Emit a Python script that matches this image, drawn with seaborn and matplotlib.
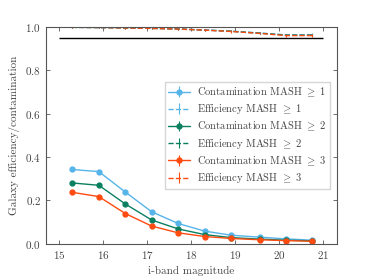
import numpy as np
import matplotlib
matplotlib.use("Agg")
import matplotlib.pyplot as plt
import seaborn as sns

mag = [15.28, 15.9, 16.5, 17.1, 17.7, 18.3, 18.9, 19.55, 20.15, 20.75]

cont1 = [0.343, 0.333, 0.239, 0.148, 0.094, 0.059, 0.040, 0.031, 0.023, 0.017]
cont2 = [0.281, 0.270, 0.184, 0.110, 0.069, 0.043, 0.029, 0.022, 0.017, 0.014]
cont3 = [0.238, 0.218, 0.140, 0.082, 0.051, 0.034, 0.025, 0.019, 0.015, 0.012]

eff1 = [0.998, 0.997, 0.996, 0.994, 0.991, 0.986, 0.980, 0.972, 0.963, 0.964]
eff2 = [0.998, 0.997, 0.995, 0.993, 0.990, 0.985, 0.980, 0.971, 0.962, 0.962]
eff3 = [0.998, 0.997, 0.995, 0.993, 0.990, 0.985, 0.979, 0.970, 0.960, 0.960]

err_c = [0.006, 0.006, 0.005, 0.004, 0.003, 0.003, 0.002, 0.002, 0.002, 0.002]
err_e = [0.004, 0.004, 0.004, 0.004, 0.004, 0.004, 0.005, 0.005, 0.006, 0.006]

threshold = 0.95
xticks = [15, 16, 17, 18, 19, 20, 21]
yticks = [0.0, 0.2, 0.4, 0.6, 0.8, 1.0]

colors = ["#56B4E9", "#0A8060", "#FF4A10"]
labels_c = [r"Contamination MASH $\geq$ 1", r"Contamination MASH $\geq$ 2", r"Contamination MASH $\geq$ 3"]
labels_e = [r"Efficiency MASH $\geq$ 1", r"Efficiency MASH $\geq$ 2", r"Efficiency MASH $\geq$ 3"]

sns.set_theme(style="ticks")
plt.rcParams["font.family"] = ["cmr10", "DejaVu Serif"]
plt.rcParams["mathtext.fontset"] = "cm"
plt.rcParams["axes.formatter.use_mathtext"] = True
plt.rcParams["axes.unicode_minus"] = False
plt.rcParams["xtick.direction"] = "in"
plt.rcParams["ytick.direction"] = "in"
plt.rcParams["xtick.top"] = True
plt.rcParams["ytick.right"] = True

fig = plt.figure(figsize=(3.74, 2.8), dpi=100)
ax = fig.add_axes([0.123, 0.129, 0.777, 0.775])

for cont, eff, c, lc, le in zip([cont1, cont2, cont3], [eff1, eff2, eff3], colors, labels_c, labels_e):
    ax.errorbar(mag, cont, yerr=err_c, color=c, marker="o", ms=3.5, lw=1.0, elinewidth=0.8, label=lc)
    ax.errorbar(mag, eff, yerr=err_e, color=c, ls="--", lw=1.0, elinewidth=0.8, label=le)

ax.hlines(threshold, 15, 21, color="black", lw=1.0)

ax.set_xlim(14.7, 21.3)
ax.set_ylim(0.0, 1.0)
ax.set_xticks(xticks)
ax.set_yticks(yticks)
ax.tick_params(labelsize=8, length=3, width=0.6, colors="#555555", labelcolor="#444444")
for s in ax.spines.values():
    s.set_color("#555555")
    s.set_linewidth(0.8)
ax.set_xlabel("i-band magnitude", fontsize=8, color="#444444")
ax.set_ylabel("Galaxy efficiency/contamination", fontsize=8, color="#444444")

leg = ax.legend(loc="center right", fontsize=7.6, frameon=True, fancybox=False,
                edgecolor="#cccccc", handlelength=2.0, handletextpad=0.7,
                labelspacing=0.33, borderpad=0.35, borderaxespad=0.6)
for t in leg.get_texts():
    t.set_color("#444444")

fig.savefig("out.png", dpi=100)
